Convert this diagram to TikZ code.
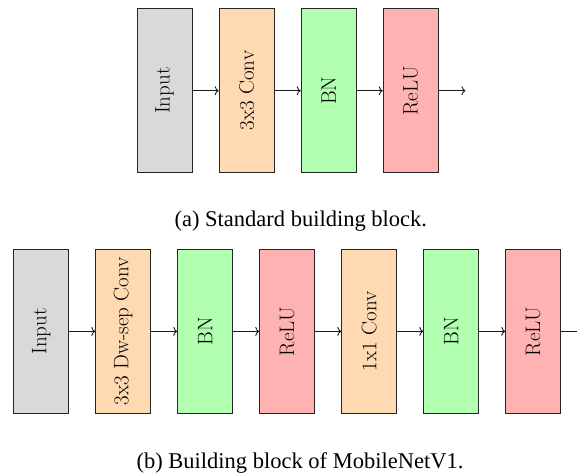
\documentclass[tikz,border=0pt]{standalone}
\usepackage{fontspec}
\newfontfamily\capfont{Liberation Serif}
\usetikzlibrary{arrows.meta}
\begin{document}
\begin{tikzpicture}[x=1pt,y=-1pt,
  block/.style={draw=black!85, line width=0.8pt, minimum width=55pt, minimum height=164pt,
    inner sep=0pt, anchor=north west},
  lbl/.style={rotate=90, font=\fontsize{21}{23}\selectfont},
  flow/.style={-{To[length=4pt,width=9pt]}, line width=0.9pt, black!90},
  caption/.style={font=\capfont\fontsize{22.5}{25}\selectfont, anchor=base}]
\useasboundingbox (0,0) rectangle (577,475);
\clip (0,0) rectangle (577,475);

% (a) standard building block
\node[block, fill=gray!30]   (a1) at (136.7,8.3) {};
\node[block, fill=orange!30] (a2) at (218.7,8.3) {};
\node[block, fill=green!30]  (a3) at (300.7,8.3) {};
\node[block, fill=red!30]    (a4) at (382.7,8.3) {};
\node[lbl] (ta1) at (a1.center) {Input};
\node[lbl] (ta2) at (a2.center) {3x3 Conv};
\node[lbl] (ta3) at (a3.center) {BN};
\node[lbl] (ta4) at (a4.center) {ReLU};
\coordinate (aout) at ([xshift=27pt]a4.east);
\draw[flow] (a1.east) -- (a2.west);
\draw[flow] (a2.east) -- (a3.west);
\draw[flow] (a3.east) -- (a4.west);
\draw[flow] (a4.east) -- (aout);
\node[caption] (capa) at (300.8,226.7) {(a) Standard building block.};

% (b) MobileNetV1 building block
\node[block, fill=gray!30]   (b1) at (13.3,249.0) {};
\node[block, fill=orange!30] (b2) at (95.3,249.0) {};
\node[block, fill=green!30]  (b3) at (177.3,249.0) {};
\node[block, fill=red!30]    (b4) at (259.3,249.0) {};
\node[block, fill=orange!30] (b5) at (341.3,249.0) {};
\node[block, fill=green!30]  (b6) at (423.3,249.0) {};
\node[block, fill=red!30]    (b7) at (505.3,249.0) {};
\node[lbl] (tb1) at (b1.center) {Input};
\node[lbl] (tb2) at (b2.center) {3x3 Dw-sep Conv};
\node[lbl] (tb3) at (b3.center) {BN};
\node[lbl] (tb4) at (b4.center) {ReLU};
\node[lbl] (tb5) at (b5.center) {1x1 Conv};
\node[lbl] (tb6) at (b6.center) {BN};
\node[lbl] (tb7) at (b7.center) {ReLU};
\coordinate (bout) at ([xshift=27pt]b7.east);
\draw[flow] (b1.east) -- (b2.west);
\draw[flow] (b2.east) -- (b3.west);
\draw[flow] (b3.east) -- (b4.west);
\draw[flow] (b4.east) -- (b5.west);
\draw[flow] (b5.east) -- (b6.west);
\draw[flow] (b6.east) -- (b7.west);
\draw[flow] (b7.east) -- (bout);
\node[caption] (capb) at (300,468.3) {(b) Building block of MobileNetV1.};
\end{tikzpicture}
\end{document}
